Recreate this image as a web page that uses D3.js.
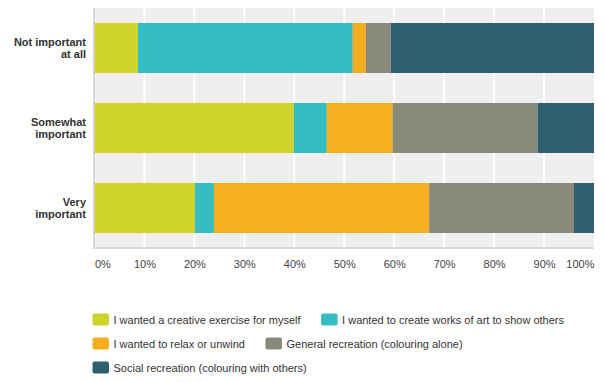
<!DOCTYPE html>
<html>
<head>
<meta charset="utf-8">
<script src="https://cdn.jsdelivr.net/npm/d3@7/dist/d3.min.js"></script>
<style>
  html, body { margin: 0; padding: 0; background: #fff; }
  svg { display: block; font-family: "Liberation Sans", Arial, sans-serif; }
</style>
</head>
<body>
<svg id="chart" width="604" height="382"></svg>
<script>
const categories = [["Not important", "at all"], ["Somewhat", "important"], ["Very", "important"]];
const seriesNames = [
  "I wanted a creative exercise for myself",
  "I wanted to create works of art to show others",
  "I wanted to relax or unwind",
  "General recreation (colouring alone)",
  "Social recreation (colouring with others)"
];
const creative = [8.7, 39.9, 20.1];
const showOthers = [43.0, 6.6, 3.8];
const relax = [2.6, 13.2, 43.1];
const generalRec = [5.0, 29.0, 29.0];
const socialRec = [40.7, 11.3, 4.0];
const tickValues = [0, 10, 20, 30, 40, 50, 60, 70, 80, 90, 100];
const tickLabels = ["0%", "10%", "20%", "30%", "40%", "50%", "60%", "70%", "80%", "90%", "100%"];
const colors = ["#cfd42a", "#34bec1", "#f7af1f", "#8a8a7a", "#2f606f"];

const series = [creative, showOthers, relax, generalRec, socialRec];
const rows = categories.map((c, i) => {
  const o = { idx: i };
  seriesNames.forEach((s, j) => { o[s] = series[j][i]; });
  return o;
});

const svg = d3.select("#chart");
const plot = { left: 94.5, right: 594, top: 8, bottom: 247 };

const x = d3.scaleLinear().domain([0, 100]).range([plot.left, plot.right]);
const y = d3.scaleBand().domain(d3.range(categories.length)).range([plot.top, plot.top + 240])
  .paddingInner(0.375).paddingOuter(0.1875);

// background
svg.append("rect").attr("x", plot.left).attr("y", plot.top)
  .attr("width", plot.right - plot.left).attr("height", plot.bottom - plot.top)
  .attr("fill", "#efefef");

// gridlines
svg.append("g").selectAll("line").data(tickValues.slice(1, -1)).join("line")
  .attr("x1", d => x(d)).attr("x2", d => x(d))
  .attr("y1", plot.top).attr("y2", plot.bottom)
  .attr("stroke", "#ffffff").attr("stroke-width", 2);

// bars
const stack = d3.stack().keys(seriesNames);
const stacked = stack(rows);
svg.append("g").selectAll("g").data(stacked).join("g")
  .attr("fill", (d, i) => colors[i])
  .selectAll("rect").data(d => d).join("rect")
  .attr("x", d => x(d[0]))
  .attr("width", d => x(d[1]) - x(d[0]))
  .attr("y", d => y(d.data.idx))
  .attr("height", y.bandwidth());

// axis lines
svg.append("line").attr("x1", plot.left).attr("x2", plot.right)
  .attr("y1", plot.bottom + 1).attr("y2", plot.bottom + 1)
  .attr("stroke", "#dadada").attr("stroke-width", 2);
svg.append("line").attr("x1", plot.left - 0.5).attr("x2", plot.left - 0.5)
  .attr("y1", plot.top).attr("y2", plot.bottom + 2)
  .attr("stroke", "#cccccc").attr("stroke-width", 1.5);

// x tick labels
const xAxis = d3.axisBottom(x).tickValues(tickValues).tickFormat((d, i) => tickLabels[i]).tickSize(0).tickPadding(0);
const gx = svg.append("g").attr("transform", `translate(0, 260)`).call(xAxis);
gx.select(".domain").remove();
gx.selectAll("text")
  .attr("font-size", "11px").attr("fill", "#444").attr("font-family", "Liberation Sans, Arial, sans-serif")
  .attr("text-anchor", (d, i) => i === 0 ? "start" : (i === tickValues.length - 1 ? "end" : "middle"))
  .attr("dy", "0.71em");

// category labels
const cl = svg.append("g");
categories.forEach((lines, i) => {
  const cy = y(i) + y.bandwidth() / 2;
  const t = cl.append("text").attr("x", 86).attr("text-anchor", "end")
    .attr("font-size", "11px").attr("font-weight", "bold").attr("fill", "#333");
  lines.forEach((ln, k) => {
    t.append("tspan").attr("x", 86)
      .attr("y", cy + 4 + (k - (lines.length - 1) / 2) * 12.5)
      .text(ln);
  });
});

// legend (flow layout)
const lg = svg.append("g");
let lx = 92.5, row = 0;
const rowY0 = 319.5, rowStep = 24, maxX = 600;
seriesNames.forEach((name, i) => {
  const tmp = lg.append("text").attr("font-size", "11px").attr("fill", "#333").text(name);
  const w = tmp.node().getComputedTextLength();
  if (lx + 21 + w > maxX) { row++; lx = 92.5; }
  const cy = rowY0 + row * rowStep;
  lg.append("rect").attr("x", lx).attr("y", cy - 6).attr("width", 16.5).attr("height", 12)
    .attr("rx", 2).attr("fill", colors[i]);
  tmp.attr("x", lx + 21).attr("y", cy + 4);
  lx = lx + 21 + w + 20.5;
});
</script>
</body>
</html>
